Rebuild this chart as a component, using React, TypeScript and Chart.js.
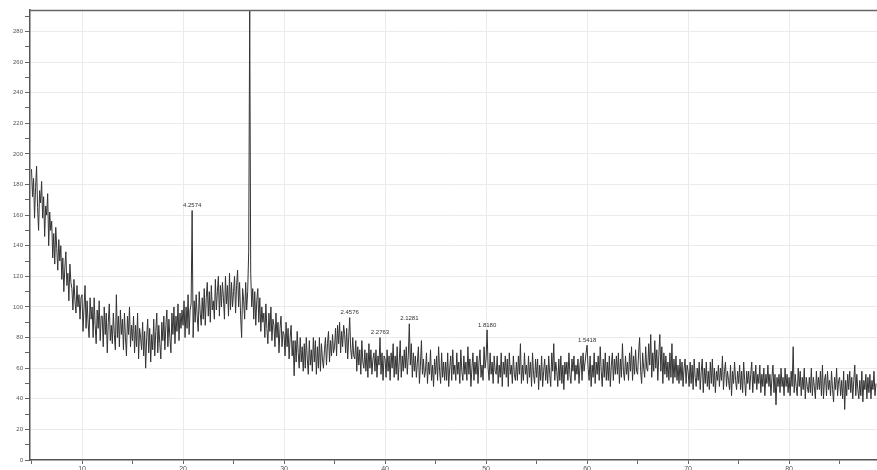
import React, { useEffect, useRef } from "react";
import { Chart, registerables } from "chart.js";

Chart.register(...registerables);

// 2-theta sampling of the scan
const START_ANGLE = 5.0;
const STEP_ANGLE = 0.1;

// Intensity (counts), 5.0° .. 88.6° every 0.1°
const intensity: number[] = [
  190, 172, 184, 158, 178, 192, 165, 150, 176, 168, // 5
  182, 158, 172, 146, 166, 160, 174, 140, 162, 150, // 6
  156, 132, 148, 128, 152, 138, 124, 144, 130, 140, // 7
  118, 132, 110, 126, 136, 114, 122, 104, 128, 116, // 8
  112, 98, 118, 104, 96, 114, 100, 108, 92, 106, // 9
  108, 84, 100, 114, 86, 104, 90, 80, 106, 92, // 10
  100, 80, 106, 88, 76, 98, 86, 104, 78, 94, // 11
  94, 74, 100, 82, 96, 70, 90, 102, 78, 88, // 12
  76, 96, 82, 72, 108, 80, 94, 74, 98, 82, // 13
  92, 72, 96, 80, 68, 94, 82, 100, 74, 88, // 14
  78, 94, 70, 88, 74, 96, 66, 86, 80, 72, // 15
  90, 68, 84, 60, 80, 92, 70, 86, 64, 82, // 16
  72, 92, 68, 84, 96, 70, 88, 76, 66, 90, // 17
  78, 94, 72, 88, 98, 74, 92, 80, 70, 96, // 18
  82, 100, 76, 94, 84, 102, 78, 96, 86, 98, // 19
  88, 104, 80, 100, 86, 108, 82, 98, 102, 163, // 20
  80, 104, 90, 108, 94, 84, 110, 96, 88, 106, // 21
  92, 112, 88, 106, 116, 94, 110, 90, 114, 98, // 22
  104, 92, 118, 98, 110, 120, 94, 114, 100, 116, // 23
  106, 92, 120, 102, 114, 94, 122, 98, 116, 100, // 24
  110, 120, 96, 114, 124, 100, 116, 94, 80, 112, // 25
  104, 92, 116, 98, 110, 136, 294, 122, 100, 112, // 26
  92, 110, 88, 104, 112, 90, 106, 84, 100, 90, // 27
  96, 80, 102, 86, 76, 96, 84, 100, 78, 92, // 28
  88, 74, 96, 80, 90, 70, 86, 94, 74, 84, // 29
  82, 68, 90, 74, 86, 66, 80, 88, 68, 78, // 30
  55, 78, 64, 84, 70, 60, 80, 64, 74, 58, // 31
  76, 60, 80, 66, 56, 78, 62, 72, 58, 80, // 32
  64, 78, 56, 74, 60, 80, 58, 76, 66, 60, // 33
  72, 80, 62, 76, 84, 64, 78, 68, 82, 70, // 34
  74, 86, 68, 88, 76, 90, 70, 84, 74, 88, // 35
  82, 70, 86, 66, 80, 93, 72, 66, 80, 68, // 36
  66, 78, 58, 74, 62, 72, 56, 78, 64, 60, // 37
  72, 58, 70, 54, 76, 60, 72, 56, 66, 70, // 38
  58, 72, 54, 68, 62, 80, 56, 70, 52, 68, // 39
  66, 54, 72, 58, 68, 52, 70, 60, 76, 54, // 40
  68, 56, 74, 52, 64, 78, 54, 68, 58, 72, // 41
  60, 74, 56, 68, 89, 62, 76, 54, 70, 58, // 42
  68, 54, 64, 74, 50, 62, 78, 56, 66, 54, // 43
  58, 70, 50, 64, 56, 72, 52, 62, 48, 66, // 44
  56, 68, 52, 74, 58, 50, 70, 54, 64, 52, // 45
  64, 52, 70, 48, 60, 68, 52, 72, 56, 62, // 46
  52, 70, 56, 64, 50, 72, 58, 52, 68, 56, // 47
  64, 52, 74, 56, 66, 48, 60, 70, 52, 64, // 48
  56, 68, 50, 64, 72, 54, 62, 52, 74, 60, // 49
  66, 85, 60, 52, 70, 56, 64, 50, 68, 58, // 50
  56, 68, 50, 62, 54, 70, 48, 64, 56, 68, // 51
  54, 66, 48, 70, 56, 62, 50, 68, 56, 52, // 52
  64, 52, 68, 56, 76, 50, 62, 52, 70, 56, // 53
  62, 50, 68, 54, 64, 48, 70, 56, 50, 66, // 54
  54, 66, 46, 62, 52, 68, 48, 58, 66, 52, // 55
  62, 50, 68, 56, 48, 70, 58, 76, 52, 64, // 56
  58, 48, 66, 52, 68, 50, 62, 46, 64, 56, // 57
  64, 52, 70, 56, 50, 66, 58, 68, 52, 62, // 58
  56, 66, 50, 62, 68, 52, 70, 58, 64, 70, // 59
  75, 60, 52, 68, 48, 62, 54, 70, 50, 64, // 60
  56, 68, 52, 74, 58, 48, 66, 54, 70, 52, // 61
  64, 52, 68, 48, 62, 70, 52, 66, 56, 68, // 62
  56, 70, 50, 66, 54, 76, 58, 52, 68, 56, // 63
  64, 52, 70, 58, 74, 52, 68, 56, 72, 58, // 64
  56, 70, 80, 58, 50, 70, 60, 54, 74, 60, // 65
  58, 76, 62, 82, 54, 70, 58, 78, 60, 72, // 66
  52, 68, 82, 58, 74, 50, 70, 56, 68, 54, // 67
  64, 52, 70, 54, 76, 50, 66, 54, 68, 52, // 68
  62, 50, 66, 52, 64, 48, 60, 66, 50, 62, // 69
  58, 48, 64, 50, 62, 46, 66, 54, 48, 60, // 70
  52, 64, 46, 58, 66, 44, 60, 50, 64, 48, // 71
  58, 46, 64, 50, 66, 48, 60, 44, 58, 52, // 72
  62, 48, 60, 52, 68, 46, 58, 64, 48, 58, // 73
  52, 46, 62, 42, 58, 50, 64, 52, 46, 58, // 74
  50, 62, 46, 58, 44, 64, 52, 42, 58, 50, // 75
  58, 46, 56, 64, 44, 58, 50, 62, 46, 56, // 76
  50, 62, 44, 56, 48, 60, 42, 56, 50, 62, // 77
  48, 56, 42, 54, 62, 44, 56, 36, 54, 48, // 78
  56, 44, 60, 48, 54, 42, 60, 48, 56, 44, // 79
  54, 42, 58, 48, 74, 44, 56, 48, 42, 60, // 80
  48, 58, 42, 54, 46, 60, 40, 54, 48, 44, // 81
  54, 44, 60, 42, 54, 48, 40, 58, 46, 54, // 82
  46, 58, 42, 62, 40, 52, 56, 42, 58, 46, // 83
  52, 42, 58, 46, 38, 54, 46, 60, 42, 52, // 84
  54, 42, 52, 40, 58, 33, 52, 42, 56, 46, // 85
  58, 44, 54, 40, 52, 62, 42, 56, 46, 40, // 86
  52, 42, 58, 38, 52, 46, 56, 40, 54, 44, // 87
  56, 40, 52, 46, 58, 42, 50, // 88
];

// Labelled reflections (d-spacings in Å)
const peakAngles: number[] = [20.9, 36.5, 39.5, 42.4, 50.1, 60.0];
const peakLabels: string[] = ["4.2574", "2.4576", "2.2763", "2.1281", "1.8180", "1.5418"];

const X_MIN = 4.85;
const X_MAX = 88.7;
const Y_MIN = 0;
const Y_MAX = 294;

const frameAndLabels = {
  id: "frameAndLabels",
  afterDatasetsDraw(chart: any) {
    const { ctx, chartArea, scales } = chart;
    ctx.save();
    ctx.strokeStyle = "#666";
    ctx.lineWidth = 1.5;
    ctx.beginPath();
    ctx.moveTo(chartArea.left, chartArea.top + 0.5);
    ctx.lineTo(chartArea.right, chartArea.top + 0.5);
    ctx.stroke();
    ctx.fillStyle = "#333";
    ctx.font = "6px 'Liberation Sans', Arial, sans-serif";
    ctx.textAlign = "center";
    ctx.textBaseline = "bottom";
    peakAngles.forEach((a, i) => {
      const idx = Math.round((a - START_ANGLE) / STEP_ANGLE);
      const v = intensity[idx];
      const px = scales.x.getPixelForValue(a);
      const py = scales.y.getPixelForValue(v) - 2;
      ctx.fillText(peakLabels[i], px, py);
    });
    ctx.restore();
  },
};

export default function App() {
  const ref = useRef<HTMLCanvasElement | null>(null);

  useEffect(() => {
    if (!ref.current) return;
    const points = intensity.map((v, i) => ({ x: START_ANGLE + i * STEP_ANGLE, y: v }));
    const font = { family: "'Liberation Sans', Arial, sans-serif", size: 6 };
    const chart = new Chart(ref.current, {
      type: "line",
      data: {
        datasets: [
          {
            data: points,
            borderColor: "#333",
            borderWidth: 1,
            pointRadius: 0,
            tension: 0,
            fill: false,
          },
        ],
      },
      options: {
        responsive: false,
        animation: false,
        events: [],
        layout: { padding: { top: 10, left: 0, right: 0, bottom: 0 } },
        plugins: { legend: { display: false }, tooltip: { enabled: false } },
        scales: {
          x: {
            type: "linear",
            min: X_MIN,
            max: X_MAX,
            afterFit: (s: any) => {
              s.height = 15;
            },
            border: { display: true, color: "#555", width: 1.5 },
            grid: {
              color: (c: any) => (c.tick && c.tick.value % 10 === 0 ? "#ebebeb" : "rgba(0,0,0,0)"),
              tickColor: "#666",
              tickLength: 4,
              drawTicks: true,
            },
            ticks: {
              stepSize: 5,
              includeBounds: false,
              autoSkip: false,
              maxRotation: 0,
              padding: 1,
              color: "#555",
              font: { ...font, size: 7 },
              callback: (v: any) => (Number(v) % 10 === 0 ? String(v) : ""),
            },
          },
          y: {
            min: Y_MIN,
            max: Y_MAX,
            afterFit: (s: any) => {
              s.width = 30;
            },
            border: { display: true, color: "#555", width: 1.5 },
            grid: {
              color: (c: any) => (c.tick && c.tick.value % 20 === 0 && c.tick.value > 0 ? "#ebebeb" : "rgba(0,0,0,0)"),
              tickColor: "#666",
              tickLength: 5,
            },
            ticks: {
              stepSize: 10,
              includeBounds: false,
              autoSkip: false,
              padding: 2,
              color: "#555",
              font,
              callback: (v: any) => (Number(v) % 20 === 0 ? String(v) : ""),
            },
          },
        },
      },
      plugins: [frameAndLabels],
    });
    return () => chart.destroy();
  }, []);

  return (
    <div
      style={{
        position: "fixed",
        left: 0,
        top: 0,
        width: 877,
        height: 470,
        overflow: "hidden",
        background: "#fff",
      }}
    >
      <canvas ref={ref} width={877} height={475} style={{ display: "block" }} />
    </div>
  );
}
